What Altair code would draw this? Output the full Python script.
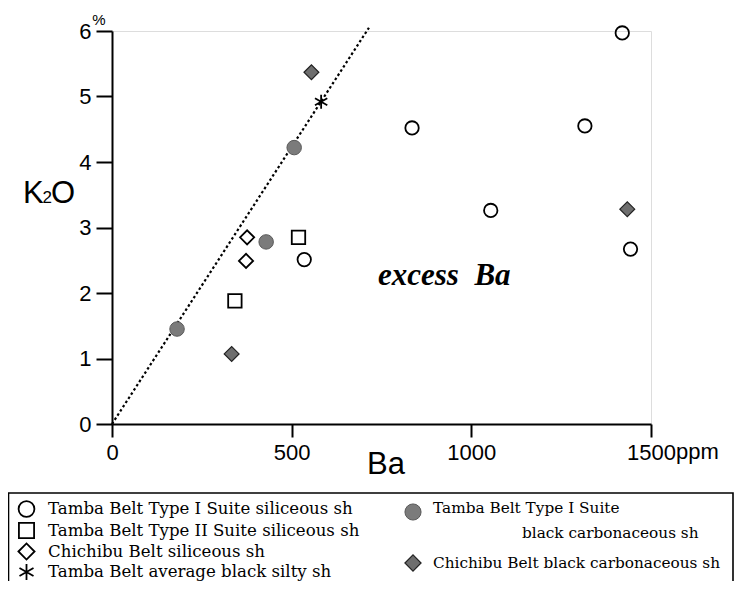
import altair as alt
import pandas as pd

# ---- data ----
t1_sil_ba = [1420, 835, 1316, 1054, 1443, 535]
t1_sil_k2o = [5.97, 4.52, 4.55, 3.26, 2.67, 2.51]

t2_sil_ba = [519, 342]
t2_sil_k2o = [2.85, 1.88]

chi_sil_ba = [376, 373]
chi_sil_k2o = [2.85, 2.49]

t1_blk_ba = [181, 429, 507]
t1_blk_k2o = [1.45, 2.78, 4.22]

chi_blk_ba = [555, 1434, 333]
chi_blk_k2o = [5.37, 3.28, 1.07]

avg_silty_ba = [582]
avg_silty_k2o = [4.92]

line_ba = [0, 715]
line_k2o = [0, 6.05]

x_ticks = [0, 500, 1000, 1500]
y_ticks = [0, 1, 2, 3, 4, 5, 6]

legend_left = [
    "Tamba Belt Type I Suite siliceous sh",
    "Tamba Belt Type II Suite siliceous sh",
    "Chichibu Belt siliceous sh",
    "Tamba Belt average black silty sh",
]
legend_right_1a = "Tamba Belt Type I Suite"
legend_right_1b = "black carbonaceous sh"
legend_right_2 = "Chichibu Belt black carbonaceous sh"

SANS = "Liberation Sans"
SERIF = "Liberation Serif"
LSERIF = "DejaVu Serif"
ASTER = "M0,-1L0,1M-0.87,-0.5L0.87,0.5M-0.87,0.5L0.87,-0.5"

xs = alt.Scale(domain=[0, 1500], nice=False, zero=True)
ys = alt.Scale(domain=[0, 6], nice=False, zero=True)

xaxis = alt.Axis(values=x_ticks, title=None, grid=False, domainColor="black",
                 domainWidth=2, tickColor="black", tickWidth=2, tickSize=13,
                 labelFont=SANS, labelFontSize=22, labelColor="black", format="d",
                 labelPadding=5, labelFlush=False, labelOverlap=False)
yaxis = alt.Axis(values=y_ticks, title=None, grid=False, domainColor="black",
                 domainWidth=2, tickColor="black", tickWidth=2, tickSize=16,
                 labelFont=SANS, labelFontSize=22, labelColor="black", format="d",
                 labelPadding=5, labelFlush=False, labelOverlap=False)


def pts(ba, k2o, **mark):
    df = pd.DataFrame({"ba": ba, "k2o": k2o})
    return alt.Chart(df).mark_point(**mark).encode(
        x=alt.X("ba:Q", scale=xs, axis=xaxis),
        y=alt.Y("k2o:Q", scale=ys, axis=yaxis),
    )


dummy = pd.DataFrame({"a": [0]})


def txt(s, x, y, size, font, align="left", baseline="alphabetic", style="normal", weight="normal"):
    return alt.Chart(dummy).mark_text(
        text=s, font=font, fontSize=size, align=align, baseline=baseline,
        fontStyle=style, fontWeight=weight, color="black"
    ).encode(x=alt.value(x), y=alt.value(y))


def sym(x, y, **mark):
    return alt.Chart(dummy).mark_point(**mark).encode(x=alt.value(x), y=alt.value(y))


line = alt.Chart(pd.DataFrame({"ba": line_ba, "k2o": line_k2o})).mark_line(
    color="black", strokeWidth=2.2, strokeDash=[2.5, 2.5]
).encode(x=alt.X("ba:Q", scale=xs, axis=xaxis), y=alt.Y("k2o:Q", scale=ys, axis=yaxis))

open_c = dict(shape="circle", filled=False, color="black", strokeWidth=1.8, opacity=1)
open_s = dict(shape="square", filled=False, color="black", strokeWidth=1.8, opacity=1)
open_d = dict(shape="diamond", filled=False, color="black", strokeWidth=1.8, opacity=1)
gray_c = dict(shape="circle", filled=True, fill="#7b7b7b", stroke="#5a5a5a", strokeWidth=1, opacity=1, fillOpacity=1)
gray_d = dict(shape="diamond", filled=True, fill="#6e6e6e", stroke="#222222", strokeWidth=1.2, opacity=1, fillOpacity=1)
aster = dict(shape=ASTER, filled=False, color="black", strokeWidth=1.8, opacity=1)

rows = [478, 499.5, 520.5, 541]
LFS_L = 16.6
LFS_R = 15.3

layers = [
    line,
    pts(t1_sil_ba, t1_sil_k2o, size=180, **open_c),
    pts(t2_sil_ba, t2_sil_k2o, size=180, **open_s),
    pts(chi_sil_ba, chi_sil_k2o, size=200, **open_d),
    pts(t1_blk_ba, t1_blk_k2o, size=210, **gray_c),
    pts(chi_blk_ba, chi_blk_k2o, size=220, **gray_d),
    pts(avg_silty_ba, avg_silty_k2o, size=200, **aster),
    # axis titles and annotations
    txt("K", -89, 172, 31, SANS),
    txt("2", -69.5, 172, 17, SANS),
    txt("O", -61, 172, 31, SANS),
    txt("%", -13, -11, 15, SANS, align="center", baseline="middle"),
    txt("ppm", 564, 421, 22, SANS, baseline="middle"),
    txt("Ba", 255, 443, 31, SANS),
    txt("excess\u00a0\u00a0Ba", 266, 254, 31, SERIF, style="italic", weight="bold"),
    # legend box
    alt.Chart(dummy).mark_rect(fill="white", fillOpacity=0, stroke="black", strokeWidth=1.6).encode(
        x=alt.value(-103.5), x2=alt.value(621), y=alt.value(462), y2=alt.value(620)),
    # legend left column
    sym(-85.5, rows[0], size=250, **open_c),
    sym(-85.5, rows[1], size=230, **open_s),
    sym(-85.5, rows[2], size=260, **open_d),
    sym(-85.5, rows[3], size=260, **aster),
    # legend right column
    sym(301, 481, size=260, **gray_c),
    sym(301, 532, size=260, **gray_d),
    txt(legend_right_1a, 321, 477, LFS_R, LSERIF, baseline="middle"),
    txt(legend_right_1b, 410, 502, LFS_R, LSERIF, baseline="middle"),
    txt(legend_right_2, 321, 532, LFS_R, LSERIF, baseline="middle"),
]
for i, lab in enumerate(legend_left):
    layers.append(txt(lab, -64, rows[i], LFS_L, LSERIF, baseline="middle"))

chart = alt.layer(*layers).properties(
    width=539, height=393,
    padding={"left": 104, "top": 23, "right": 83, "bottom": 157},
    autosize=alt.AutoSizeParams(type="none"),
).configure_view(stroke=None).configure(background="white")

chart.save("out.html", embed_options={"renderer": "svg", "actions": False})
